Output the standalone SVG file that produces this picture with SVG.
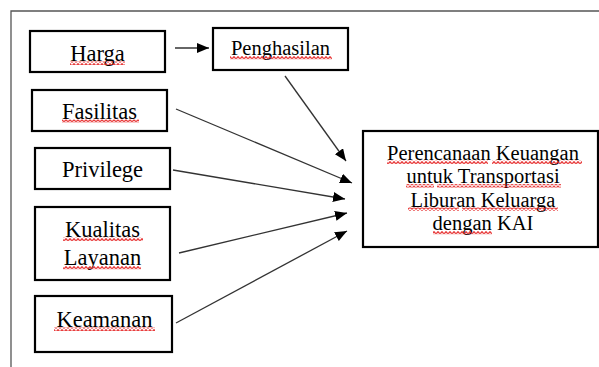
<svg xmlns="http://www.w3.org/2000/svg" width="599" height="367" viewBox="0 0 599 367">
  <style>
    .box { fill: #fff; stroke: #000; stroke-width: 2.2; }
    .t { font-family: "Liberation Serif", "Times New Roman", serif; fill: #000; text-anchor: middle; }
    .l { font-size: 22.5px; }
    .r { font-size: 20.5px; }
    .conn { stroke: #333; stroke-width: 1.3; fill: none; marker-end: url(#ah); }
    .frame { stroke: #555; stroke-width: 1.3; fill: none; }
    .sq { fill: url(#squig); }
  </style>
  <defs>
    <marker id="ah" markerUnits="userSpaceOnUse" markerWidth="13" markerHeight="11" refX="12" refY="5" orient="auto">
      <path d="M0,0 L12,5 L0,10 Z" fill="#000"/>
    </marker>
    <pattern id="squig" patternUnits="userSpaceOnUse" width="4" height="3.5">
      <path d="M0,2.8 L2,0.7 L4,2.8" stroke="#e52222" stroke-width="1.2" fill="none"/>
    </pattern>
  </defs>

  <rect width="599" height="367" fill="#fff"/>
  <path class="frame" d="M11,367 L11,11 L599,11"/>

  <g id="connectors">
    <line class="conn" x1="175" y1="48" x2="209" y2="48"/>
    <line class="conn" x1="285" y1="76" x2="346" y2="161"/>
    <line class="conn" x1="176" y1="109" x2="352" y2="183"/>
    <line class="conn" x1="173" y1="170" x2="345" y2="199"/>
    <line class="conn" x1="179" y1="253" x2="347" y2="213"/>
    <line class="conn" x1="176" y1="323" x2="347" y2="231"/>
  </g>

  <g id="harga">
    <rect class="box" x="30" y="31" width="135" height="41"/>
    <text class="t l" x="97.5" y="61">Harga</text>
    <rect class="sq" x="70" y="61.5" width="55" height="3.5"/>
  </g>

  <g id="penghasilan">
    <rect class="box" x="213" y="28" width="135" height="42"/>
    <text class="t r" x="280.5" y="55">Penghasilan</text>
    <rect class="sq" x="230" y="56" width="102" height="3.5"/>
  </g>

  <g id="fasilitas">
    <rect class="box" x="32" y="90" width="135" height="41"/>
    <text class="t l" x="99.5" y="119">Fasilitas</text>
    <rect class="sq" x="62" y="119.5" width="77" height="3.5"/>
  </g>

  <g id="privilege">
    <rect class="box" x="35" y="148" width="135" height="41"/>
    <text class="t l" x="102.5" y="176.5">Privilege</text>
  </g>

  <g id="kualitas-layanan">
    <rect class="box" x="35" y="207" width="135" height="73"/>
    <text class="t l" x="102.5" y="236.5">Kualitas</text>
    <text class="t l" x="102.5" y="265">Layanan</text>
    <rect class="sq" x="63" y="237.5" width="80" height="3.5"/>
    <rect class="sq" x="63" y="266" width="78" height="3.5"/>
  </g>

  <g id="keamanan">
    <rect class="box" x="35" y="296" width="137" height="56"/>
    <text class="t l" x="104.5" y="326.5">Keamanan</text>
    <rect class="sq" x="54" y="327.5" width="101" height="3.5"/>
  </g>

  <g id="perencanaan">
    <rect class="box" x="363" y="131" width="235" height="116"/>
    <text class="t r" x="483" y="159.5">Perencanaan Keuangan</text>
    <text class="t r" x="483" y="183">untuk Transportasi</text>
    <text class="t r" x="483" y="206.5">Liburan Keluarga</text>
    <text class="t r" x="483" y="230">dengan KAI</text>
    <rect class="sq" x="387" y="160.5" width="101" height="3.5"/>
    <rect class="sq" x="492" y="160.5" width="90" height="3.5"/>
    <rect class="sq" x="406" y="184" width="28" height="3.5"/>
    <rect class="sq" x="437" y="184" width="124" height="3.5"/>
    <rect class="sq" x="408" y="207.5" width="51" height="3.5"/>
    <rect class="sq" x="462" y="207.5" width="96" height="3.5"/>
    <rect class="sq" x="433" y="231" width="59" height="3.5"/>
  </g>
</svg>
